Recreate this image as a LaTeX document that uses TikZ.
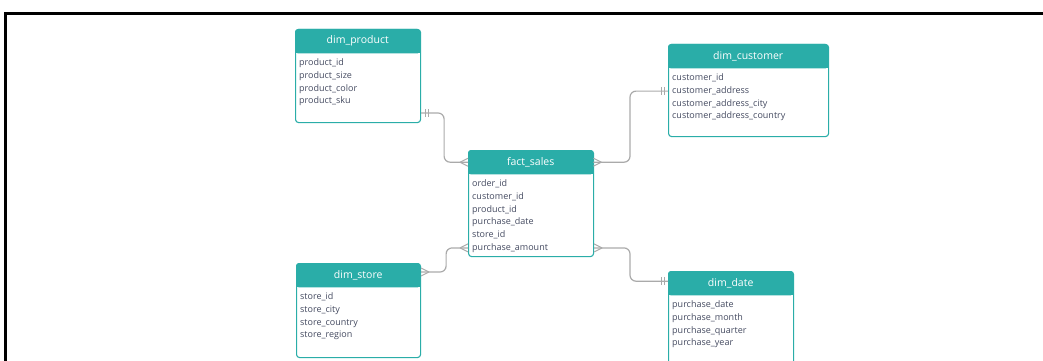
\documentclass[tikz,border=0pt]{standalone}
\usepackage{fontspec}
\setmainfont{Open Sans}
\usetikzlibrary{calc,backgrounds}
\definecolor{tealc}{RGB}{42,173,168}
\definecolor{linec}{RGB}{170,170,170}
\definecolor{txtc}{RGB}{68,74,96}
\tikzset{
  tbl/.style={draw=tealc, line width=1.1pt, rounded corners=3pt, anchor=north west, inner sep=0pt},
  hdr/.style={anchor=north west, inner sep=0pt, text=white, font=\fontsize{10.5}{12}\selectfont},
  row/.style={anchor=west, inner sep=0pt, text=txtc, font=\fontsize{9}{10}\selectfont, text height=6.5pt, text depth=2pt},
  conn/.style={draw=linec, line width=1.2pt, rounded corners=6pt},
  mk/.style={draw=linec, line width=1pt},
  crow/.pic={\draw[mk] (-8,0) -- (0,-4) (-8,0) -- (0,4);},
  bars/.pic={\draw[mk] (4,-4) -- (4,4) (7,-4) -- (7,4);}
}
\newcommand\erdtab[7]{%
  \node[tbl, minimum width=#4pt, minimum height=#5pt] (#1) at (#2,#3) {};
  \node[hdr, minimum width=#4pt, minimum height=24pt] (#1h) at (#2,#3) {#6};
  \begin{scope}[on background layer]
    \fill[tealc, rounded corners=3pt] (#1h.south west) rectangle (#1h.north east);
    \fill[tealc] (#1h.south west) rectangle (#1h.east);
  \end{scope}
  \foreach \r [count=\i] in {#7} {
    \node[row] (#1r\i) at ($(#1h.south west)+(4,{10+12.7*(\i-1)})$) {\r};
  }
}
\begin{document}
\begin{tikzpicture}[x=1pt,y=-1pt]
\clip (0,0) rectangle (1043,361);
\draw[line width=2.5pt, black] (5.3,361) -- (5.3,13.3) -- (1043,13.3);

\erdtab{prod}{295}{29}{125}{93}{dim\_product}{product\_id,product\_size,product\_color,product\_sku}
\erdtab{cust}{668}{44}{160}{92}{dim\_customer}{customer\_id,customer\_address,customer\_address\_city,customer\_address\_country}
\erdtab{fact}{468}{150}{125}{106}{fact\_sales}{order\_id,customer\_id,product\_id,purchase\_date,store\_id,purchase\_amount}
\erdtab{store}{296}{263}{124}{94}{dim\_store}{store\_id,store\_city,store\_country,store\_region}
\erdtab{date}{668}{271}{125}{100}{dim\_date}{purchase\_date,purchase\_month,purchase\_quarter,purchase\_year}

\coordinate (pe) at ($(prod.north east)+(0,84)$);
\coordinate (ce) at (cust.west |- custr2.west);
\coordinate (se) at ($(store.north east)+(0,9)$);
\coordinate (fl) at (fact.west |- factr6.west);
\coordinate (fr) at (fact.east |- factr6.west);
\coordinate (de) at ($(dateh.west)+(0,-2)$);

\draw[conn] (pe) -- ++(23,0) |- (facth.west);
\draw[conn] (facth.east) -| ($(ce)+(-38,0)$) -- (ce);
\draw[conn] (se) -- ++(25,0) |- (fl);
\draw[conn] (fr) -| ($(de)+(-38,0)$) -- (de);

\pic at (facth.west) {crow};
\pic[xscale=-1] at (facth.east) {crow};
\pic at (fl) {crow};
\pic[xscale=-1] at (fr) {crow};
\pic[xscale=-1] at (se) {crow};
\pic at (pe) {bars};
\pic[xscale=-1] at (ce) {bars};
\pic[xscale=-1] at (de) {bars};
\end{tikzpicture}
\end{document}
